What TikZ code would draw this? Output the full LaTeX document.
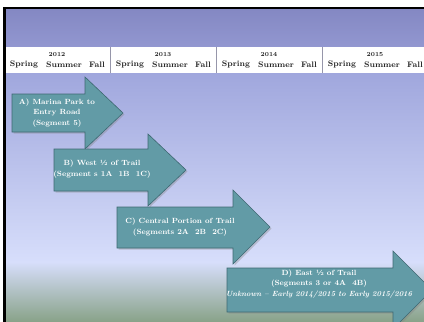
\documentclass[tikz,border=0pt]{standalone}
\usetikzlibrary{shadows}
\definecolor{bandtop}{RGB}{132,136,195}
\definecolor{bandbottom}{RGB}{146,151,208}
\definecolor{bgtop}{RGB}{160,167,221}
\definecolor{bglight}{RGB}{215,222,251}
\definecolor{bggreen}{RGB}{136,162,136}
\definecolor{sepgray}{RGB}{150,150,170}
\definecolor{headtext}{RGB}{30,30,30}
\definecolor{arrowfill}{RGB}{98,155,166}
\definecolor{arrowedge}{RGB}{62,104,114}
\begin{document}
\begin{tikzpicture}[x=1pt, y=-1pt,
  season/.style={inner sep=0pt, text=headtext, font=\fontsize{8}{9}\selectfont\bfseries},
  year/.style={inner sep=0pt, text=headtext, font=\fontsize{6}{7}\selectfont\bfseries},
  phase/.style={fill=arrowfill, draw=arrowedge, line width=0.6pt,
    drop shadow={opacity=0.35, shadow xshift=1.5pt, shadow yshift=-1.5pt}},
  phasetext/.style={align=center, text=white, inner sep=0pt,
    font=\fontsize{7.5}{10.5}\selectfont\bfseries}]
\clip (0,0) rectangle (424,322);
\fill[white] (0,0) rectangle (424,322);
% background and header band
\shade[top color=bgtop, bottom color=bglight] (4,73) rectangle (424,262);
\shade[top color=bglight, bottom color=bggreen] (4,262) rectangle (424,322);
\shade[top color=bandtop, bottom color=bandbottom] (4,9) rectangle (424,47);
\fill[white] (6,47) rectangle (424,73);
\fill[black] (3,7) rectangle (424,9);
\fill[black] (3,7) rectangle (6,322);
\draw[sepgray, line width=0.8pt] (110,47) -- (110,73);
\draw[sepgray, line width=0.8pt] (216,47) -- (216,73);
\draw[sepgray, line width=0.8pt] (322,47) -- (322,73);
% years and seasons
\node[year] (y12) at (57,55) {2012};
\node[season] (sp12) at (24,65) {Spring};
\node[season] (su12) at (64,65) {Summer};
\node[season] (fa12) at (97,65) {Fall};
\node[year] (y13) at (163,55) {2013};
\node[season] (sp13) at (130,65) {Spring};
\node[season] (su13) at (170,65) {Summer};
\node[season] (fa13) at (203,65) {Fall};
\node[year] (y14) at (269,55) {2014};
\node[season] (sp14) at (236,65) {Spring};
\node[season] (su14) at (276,65) {Summer};
\node[season] (fa14) at (309,65) {Fall};
\node[year] (y15) at (375,55) {2015};
\node[season] (sp15) at (342,65) {Spring};
\node[season] (su15) at (382,65) {Summer};
\node[season] (fa15) at (415,65) {Fall};
% phase arrows
\path[phase] (12,94) -- (85,94) -- (85,77) -- (123,113) -- (85,149) -- (85,132) -- (12,132) -- cycle;
\path[phase] (54,149) -- (148,149) -- (148,134) -- (186,170) -- (148,206) -- (148,191) -- (54,191) -- cycle;
\path[phase] (117,207) -- (233,207) -- (233,190) -- (270,227) -- (233,264) -- (233,248) -- (117,248) -- cycle;
\path[phase] (227,268) -- (393,268) -- (393,251) -- (432,290) -- (393,329) -- (393,312) -- (227,312) -- cycle;
\node[phasetext] (segA) at (57,113) {A) Marina Park to\\Entry Road\\(Segment 5)};
\node[phasetext] (segB) at (102,169) {B) West \textonehalf{} of Trail\\(Segment s 1A~~1B~~1C)};
\node[phasetext] (segC) at (180,227) {C) Central Portion of Trail\\(Segments 2A~~2B~~2C)};
\node[phasetext] (segD) at (319,284) {D) East \textonehalf{} of Trail\\(Segments 3 or 4A~~4B)\\
  \itshape Unknown -- Early 2014/2015 to Early 2015/2016};
\end{tikzpicture}
\end{document}
